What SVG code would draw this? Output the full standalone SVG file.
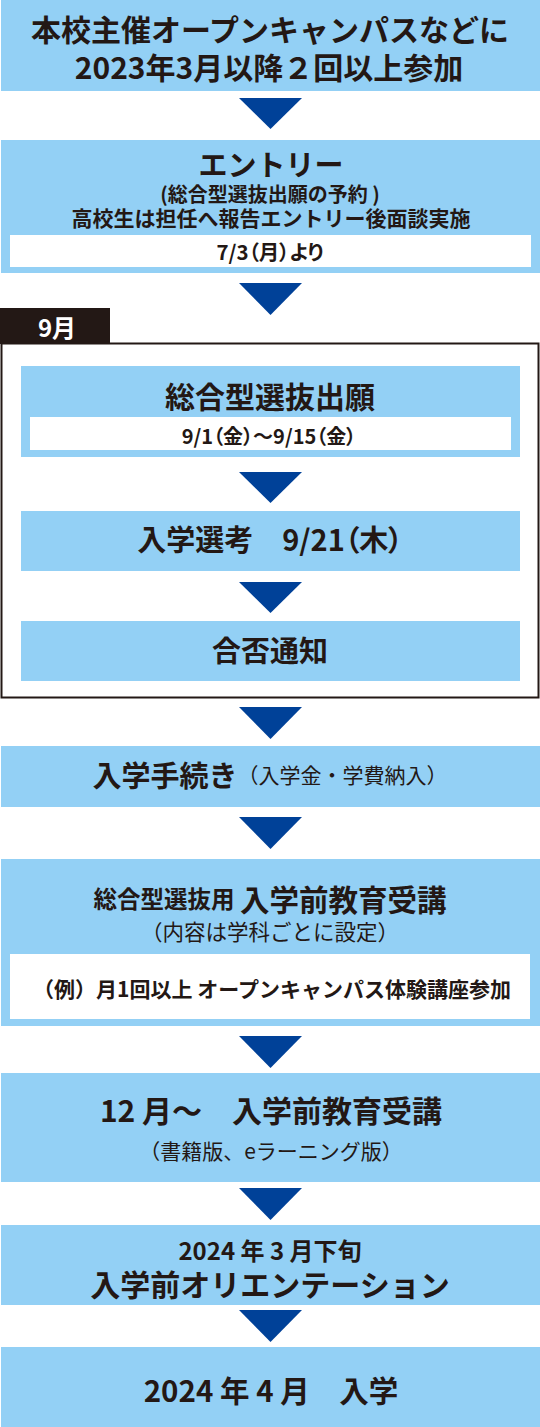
<svg xmlns="http://www.w3.org/2000/svg" width="540" height="1427" viewBox="0 0 540 1427">
<style>
.box{fill:#93d0f5}
.wb{fill:#ffffff}
.arr{fill:#004198}
text{font-family:"Noto Sans CJK JP","Noto Sans",sans-serif;fill:#231815;text-anchor:middle;dominant-baseline:central}
.b{font-weight:bold}
.r{font-weight:normal}
.p{font-feature-settings:"palt"}
</style>
<rect width="540" height="1427" fill="#ffffff"/>
<g id="group-september">
<rect x="1.5" y="343.5" width="537" height="354" fill="none" stroke="#231815" stroke-width="2"/>
<rect x="0" y="308" width="110" height="36" fill="#231815"/>
<text class="b" x="57" y="326" font-size="24" style="fill:#ffffff">9月</text>
</g>
<g id="connectors">
<polygon class="arr" points="239,98 302,98 270.5,129"/>
<polygon class="arr" points="239,283 302,283 270.5,315"/>
<polygon class="arr" points="239,472 302,472 270.5,503"/>
<polygon class="arr" points="239,582 302,582 270.5,613"/>
<polygon class="arr" points="239,707 302,707 270.5,739"/>
<polygon class="arr" points="239,817 302,817 270.5,849"/>
<polygon class="arr" points="239,1036 302,1036 270.5,1068"/>
<polygon class="arr" points="239,1188 302,1188 270.5,1220"/>
<polygon class="arr" points="239,1310 302,1310 270.5,1342"/>
</g>
<g id="node-start">
<rect class="box" x="1" y="0" width="539" height="91"/>
<text class="b" x="270" y="28" font-size="30">本校主催オープンキャンパスなどに</text>
<text class="b" x="269" y="66" font-size="30">2023年3月以降２回以上参加</text>
</g>
<g id="node-entry">
<rect class="box" x="1" y="140" width="539" height="133"/>
<text class="b" x="271" y="163" font-size="29">エントリー</text>
<text class="b" x="270" y="193" font-size="20">(総合型選抜出願の予約 )</text>
<text class="b" x="271" y="217" font-size="21">高校生は担任へ報告エントリー後面談実施</text>
<rect class="wb" x="10" y="235" width="521" height="32"/>
<text class="b p" x="270" y="251" font-size="20.5">7/3（月）より</text>
</g>
<g id="node-apply">
<rect class="box" x="21" y="366" width="499" height="91"/>
<text class="b" x="270" y="395" font-size="30">総合型選抜出願</text>
<rect class="wb" x="30" y="417" width="481" height="33"/>
<text class="b p" x="269" y="435" font-size="20">9/1（金）〜9/15（金）</text>
</g>
<g id="node-exam">
<rect class="box" x="21" y="511" width="499" height="60"/>
<text class="b p" x="270" y="538" font-size="29">入学選考　9/21（木）</text>
</g>
<g id="node-result">
<rect class="box" x="21" y="621" width="499" height="60"/>
<text class="b" x="270" y="649" font-size="29">合否通知</text>
</g>
<g id="node-procedure">
<rect class="box" x="1" y="746" width="539" height="61"/>
<text x="270" y="774"><tspan class="b" font-size="29">入学手続き</tspan><tspan class="r" font-size="21">（入学金・学費納入）</tspan></text>
</g>
<g id="node-pre-education">
<rect class="box" x="1" y="859" width="539" height="167"/>
<text x="270" y="898"><tspan class="b" font-size="23.5">総合型選抜用 </tspan><tspan class="b" font-size="29.5">入学前教育受講</tspan></text>
<text class="r" x="270" y="930" font-size="21.5">（内容は学科ごとに設定）</text>
<rect class="wb" x="10" y="954" width="520" height="65"/>
<text class="b" x="272" y="988" font-size="21">（例）月1回以上 オープンキャンパス体験講座参加</text>
</g>
<g id="node-december">
<rect class="box" x="1" y="1073" width="539" height="109"/>
<text class="b" x="271" y="1109" font-size="30">12 月〜　入学前教育受講</text>
<text class="r" x="271" y="1150" font-size="21">（書籍版、eラーニング版）</text>
</g>
<g id="node-orientation">
<rect class="box" x="1" y="1225" width="539" height="80"/>
<text class="b" x="270" y="1249" font-size="24">2024 年 3 月下旬</text>
<text class="b" x="270" y="1283" font-size="30">入学前オリエンテーション</text>
</g>
<g id="node-admission">
<rect class="box" x="1" y="1347" width="539" height="80"/>
<text class="b" x="271" y="1389" font-size="29.5">2024 年 4 月　入学</text>
</g>
</svg>
